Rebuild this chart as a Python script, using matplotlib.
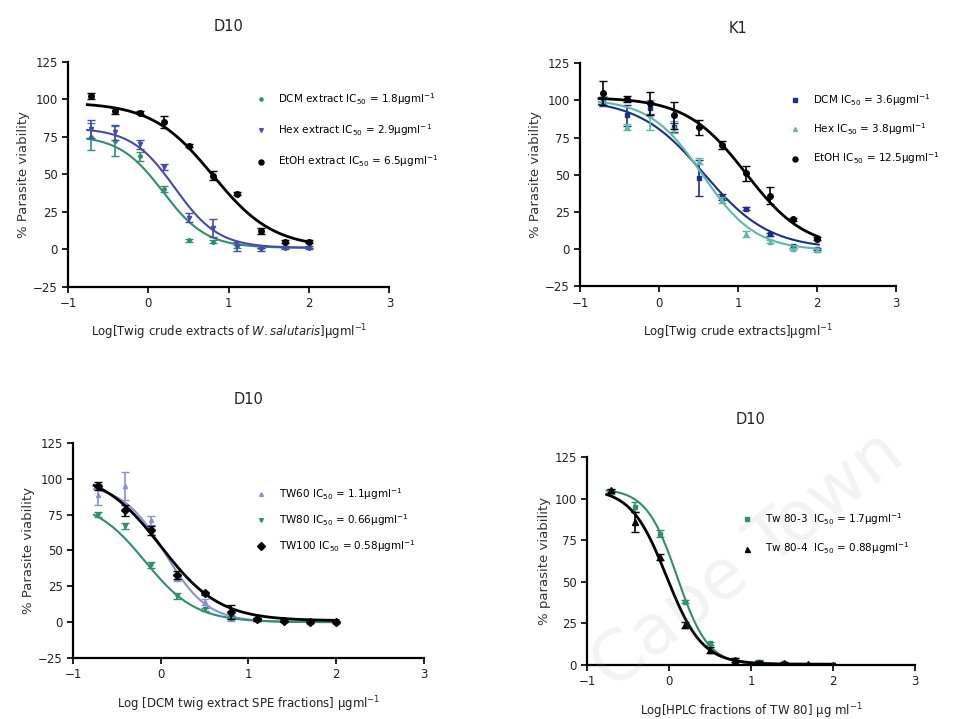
import numpy as np
import matplotlib
matplotlib.use('Agg')
import matplotlib.pyplot as plt

# log10 concentrations, 2-fold dilutions from 100 ug/ml
log_conc = [-0.71, -0.41, -0.11, 0.19, 0.50, 0.80, 1.10, 1.40, 1.70, 2.00]

# --- panel A: D10, crude twig extracts
a_dcm = [75, 72, 62, 40, 6, 5, 2, 1, 1, 1]
a_dcm_err = [9, 10, 3, 2, 1, 1, 1, 0, 0, 0]
a_hex = [80, 78, 70, 55, 21, 14, 2, 0, 1, 1]
a_hex_err = [6, 5, 3, 2, 3, 6, 3, 1, 1, 1]
a_etoh = [102, 92, 91, 85, 69, 49, 37, 12, 5, 5]
a_etoh_err = [2, 2, 1, 4, 1, 3, 1, 2, 1, 1]
# fitted curves: top, bottom, logIC50, hill
a_fit = {'dcm': (76, 1, 0.18, 1.6), 'hex': (81, 1, 0.33, 1.6), 'etoh': (98, 1, 0.80, 1.15)}

# --- panel B: K1, crude twig extracts
b_dcm = [99, 90, 95, 82, 48, 35, 27, 10, 2, 0]
b_dcm_err = [3, 7, 4, 3, 12, 2, 1, 1, 1, 1]
b_hex = [100, 82, 90, 82, 59, 33, 10, 5, 0, -1]
b_hex_err = [3, 2, 10, 4, 2, 2, 2, 1, 1, 1]
b_etoh = [105, 101, 98, 90, 82, 70, 51, 36, 20, 7]
b_etoh_err = [8, 2, 8, 9, 5, 3, 5, 6, 1, 1]
b_fit = {'dcm': (101, 0, 0.57, 1.05), 'hex': (101, -1, 0.55, 1.3), 'etoh': (102, 0, 1.097, 1.15)}

# --- panel C: D10, DCM twig extract SPE fractions
c_tw60 = [89, 95, 71, 31, 14, 3, 2, 1, 0, 0]
c_tw60_err = [7, 10, 3, 2, 2, 2, 1, 1, 1, 1]
c_tw80 = [75, 67, 40, 18, 9, 3, 2, 1, 0, 0]
c_tw80_err = [2, 2, 2, 2, 1, 1, 1, 0, 0, 0]
c_tw100 = [95, 78, 64, 33, 20, 7, 2, 1, 0, 0]
c_tw100_err = [3, 4, 3, 3, 1, 5, 1, 1, 0, 0]
c_fit = {'tw60': (96, 0, 0.05, 1.8), 'tw80': (85, 0, -0.18, 1.5), 'tw100': (105, 1, 0.0, 1.3)}

# --- panel D: D10, HPLC fractions of TW80
d_tw803 = [104, 95, 79, 38, 13, 3, 2, 1, 0, 0]
d_tw803_err = [1, 3, 2, 1, 1, 1, 1, 0, 0, 0]
d_tw804 = [105, 86, 65, 24, 9, 3, 1.5, 1, 0.5, 0]
d_tw804_err = [1, 6, 2, 2, 2, 1, 1, 1, 0, 0]
d_fit = {'tw803': (106, 0, 0.10, 2.3), 'tw804': (106, 0.5, -0.03, 2.0)}

teal = '#2f8f6f'
purple = '#4a4aa8'
navy = '#1e2f86'
lightteal = '#5fb8a8'
lavender = '#8c8fd6'

sup = r'$^{-1}$'
ic = r'IC$_{50}$'


def sigmoid(p, x):
    top, bottom, c, h = p
    return bottom + (top - bottom) / (1 + 10 ** (h * (x - c)))


def series(ax, y, err, p, color, marker, ms, label, lw=1.5):
    xs = np.linspace(log_conc[0] - 0.05, log_conc[-1] + 0.02, 200)
    ax.plot(xs, sigmoid(p, xs), color=color, lw=lw)
    ax.errorbar(log_conc, y, yerr=err, fmt='none', ecolor=color,
                capsize=3, elinewidth=1.2)
    ax.plot(log_conc, y, ls='none', marker=marker, color=color, ms=ms, label=label)


def style(ax, title, xlabel, ylabel, ylim, pad):
    ax.spines['top'].set_visible(False)
    ax.spines['right'].set_visible(False)
    ax.spines['left'].set_linewidth(1.6)
    ax.spines['bottom'].set_linewidth(1.6)
    ax.set_xlim(-1, 3)
    ax.set_ylim(*ylim)
    ax.set_xticks([-1, 0, 1, 2, 3])
    ax.set_yticks(np.arange(ylim[0], 126, 25))
    ax.tick_params(direction='out', width=1.4, length=4, labelsize=8.5, colors='#222222')
    ax.set_title(title, fontsize=10.5, pad=pad, color='#222222')
    ax.set_xlabel(xlabel, fontsize=8.5, labelpad=9, color='#222222')
    ax.set_ylabel(ylabel, fontsize=9.5, labelpad=2, color='#333333')


def legend(ax, anchor, spacing):
    ax.legend(loc='upper left', bbox_to_anchor=anchor, frameon=False, fontsize=7.5,
              labelspacing=spacing, handletextpad=1.2, handlelength=1,
              borderaxespad=0, markerscale=0.9)


fig = plt.figure(figsize=(9.77, 7.19), dpi=100)

# panel A
ax = fig.add_axes([0.0696, 0.601, 0.329, 0.313])
series(ax, a_dcm, a_dcm_err, a_fit['dcm'], teal, 'o', 2.5, f'DCM extract {ic} = 1.8μgml{sup}')
series(ax, a_hex, a_hex_err, a_fit['hex'], purple, 'v', 3, f'Hex extract {ic} = 2.9μgml{sup}')
series(ax, a_etoh, a_etoh_err, a_fit['etoh'], 'black', 'o', 4, f'EtOH extract {ic} = 6.5μgml{sup}', lw=2)
style(ax, 'D10', r'Log[Twig crude extracts of $\it{W.salutaris}$]μgml' + sup,
      '% Parasite viability', (-25, 125), 22)
legend(ax, (0.57, 0.89), 1.5)

# panel B
ax = fig.add_axes([0.5937, 0.602, 0.3236, 0.31])
series(ax, b_dcm, b_dcm_err, b_fit['dcm'], navy, 's', 3.5, f'DCM {ic} = 3.6μgml{sup}')
series(ax, b_hex, b_hex_err, b_fit['hex'], lightteal, '^', 3, f'Hex {ic} = 3.8μgml{sup}')
series(ax, b_etoh, b_etoh_err, b_fit['etoh'], 'black', 'o', 4, f'EtOH {ic} = 12.5μgml{sup}', lw=2)
style(ax, 'K1', r'Log[Twig crude extracts]μgml' + sup,
      '% Parasite viability', (-25, 125), 22)
legend(ax, (0.65, 0.89), 1.3)

# panel C
ax = fig.add_axes([0.0747, 0.0848, 0.3593, 0.2992])
series(ax, c_tw60, c_tw60_err, c_fit['tw60'], lavender, '^', 3, f'TW60 {ic} = 1.1μgml{sup}')
series(ax, c_tw80, c_tw80_err, c_fit['tw80'], teal, 'v', 3, f'TW80 {ic} = 0.66μgml{sup}')
series(ax, c_tw100, c_tw100_err, c_fit['tw100'], 'black', 'D', 4.5, f'TW100 {ic} = 0.58μgml{sup}', lw=2)
style(ax, 'D10', r'Log [DCM twig extract SPE fractions] μgml' + sup,
      '% Parasite viability', (-25, 125), 28)
legend(ax, (0.51, 0.82), 1.0)

# panel D
ax = fig.add_axes([0.6008, 0.0751, 0.3357, 0.2893])
series(ax, d_tw803, d_tw803_err, d_fit['tw803'], teal, 's', 3.5, f'Tw 80-3  {ic} = 1.7μgml{sup}')
series(ax, d_tw804, d_tw804_err, d_fit['tw804'], 'black', '^', 4, f'Tw 80-4  {ic} = 0.88μgml{sup}', lw=2)
style(ax, 'D10', r'Log[HPLC fractions of TW 80] μg ml' + sup,
      '% parasite viability', (0, 125), 24)
legend(ax, (0.46, 0.76), 1.3)

# faint watermark
fig.text(0.765, 0.22, 'Cape Town', fontsize=50, color='#9a9a9a', alpha=0.12, rotation=38,
         ha='center', va='center', zorder=10)

fig.savefig('out.png', dpi=100)
